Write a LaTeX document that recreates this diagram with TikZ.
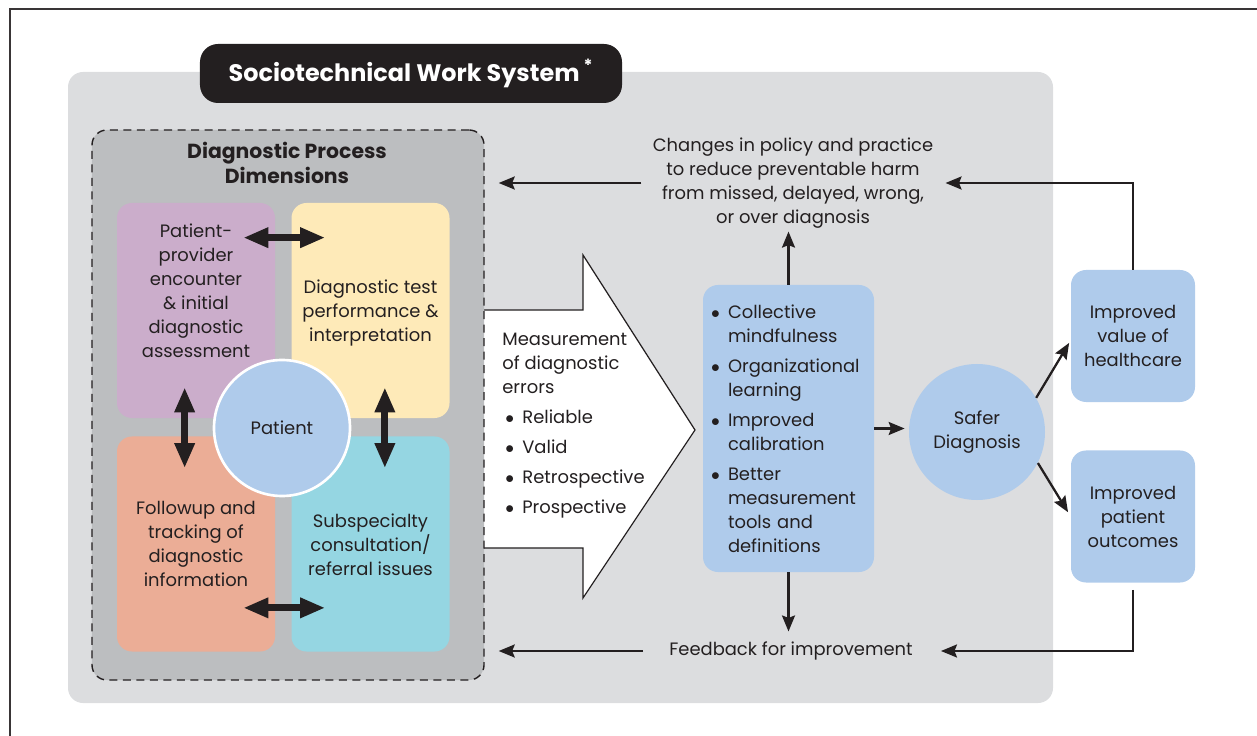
\documentclass[tikz,border=0pt]{standalone}
\usepackage{fontspec}
\setmainfont{Poppins}
\usetikzlibrary{arrows.meta, positioning}

\definecolor{txt}{HTML}{231F20}
\definecolor{panelgray}{HTML}{DCDDDF}
\definecolor{dimgray}{HTML}{BCBEC0}
\definecolor{qpurple}{HTML}{CBADCB}
\definecolor{qyellow}{HTML}{FEEAB8}
\definecolor{qsalmon}{HTML}{EBAD96}
\definecolor{qcyan}{HTML}{95D6E2}
\definecolor{boxblue}{HTML}{AFCBEB}

\newcommand{\bul}{\makebox[3.4mm][l]{$\bullet$}}
\newcommand{\ind}{\hspace*{3.4mm}}

\begin{document}
\begin{tikzpicture}[
    x=0.2mm, y=-0.2mm,
    font=\fontsize{10.2}{13.66}\selectfont,
    text=txt,
    quad/.style={
        rectangle,
        rounded corners=3mm,
        minimum width=31.6mm,
        minimum height=43mm,
        inner sep=0pt
    },
    bluebox/.style={rectangle, rounded corners=3mm, fill=boxblue, inner sep=0pt},
    circ/.style={circle, fill=boxblue, minimum size=27.2mm, inner sep=0pt, align=center},
    arr/.style={-{Stealth[length=3.2mm, width=2.6mm, inset=0.5mm]}, line width=1.3pt, draw=txt},
    dbl/.style={{Triangle[length=5mm, width=3.8mm]}-{Triangle[length=5mm, width=3.8mm]}, line width=4pt, draw=txt}
]
\useasboundingbox (0,0) rectangle (1257,736);

% frame and background panel
\draw[line width=1.2pt, draw=txt!90] (10,740) |- (1260,9);
\fill[panelgray, rounded corners=3mm] (68,72) rectangle (1053,703);

% title
\node[rectangle, rounded corners=3.6mm, fill=txt, text=white, minimum width=84.4mm, minimum height=11.8mm,
      font=\fontsize{13.6}{16}\selectfont\bfseries] (title) at (411,73.5) {Sociotechnical Work System\,\textsuperscript{*}};

% big arrow
\draw[fill=white, draw=txt, line width=0.7pt] (470,310) -- (583,310) -- (583,255) -- (695,430)
    -- (583,598) -- (583,548) -- (470,548);

% diagnostic process dimensions
\node[rectangle, rounded corners=3mm, draw=txt, fill=dimgray, line width=0.8pt,
      dash pattern=on 1.6mm off 1.1mm, minimum width=78.4mm, minimum height=110mm] (dims) at (288,405) {};
\node[align=center, font=\fontsize{11.6}{14.7}\selectfont\bfseries] (dimhead) at (287,163) {Diagnostic Process\\Dimensions};

\node[quad, fill=qpurple] (pp) at (196,310.5) {};
\node[quad, fill=qyellow] (dt) at (370.5,310.5) {};
\node[quad, fill=qsalmon] (fu) at (196,544) {};
\node[quad, fill=qcyan] (sc) at (370.5,544) {};

\node[align=center] (pptext) at (196,291) {Patient-\\provider\\encounter\\\& initial\\diagnostic\\assessment};
\node[align=center] (dttext) at (370.5,313) {Diagnostic test\\performance \&\\interpretation};
\node[align=center] (futext) at (196,544) {Followup and\\tracking of\\diagnostic\\information};
\node[align=center] (sctext) at (370.5,545) {Subspecialty\\consultation/\\referral issues};

\draw[dbl] ([xshift=-6.4mm, yshift=-7mm]pp.north east) -- ([xshift=6.8mm, yshift=-7mm]dt.north west);
\draw[dbl] ([xshift=-6.4mm, yshift=8.8mm]fu.south east) -- ([xshift=6.8mm, yshift=8.8mm]sc.south west);
\draw[dbl] ([xshift=13.6mm, yshift=6.2mm]pp.south west) -- ([xshift=13.6mm, yshift=-6.4mm]fu.north west);
\draw[dbl] ([xshift=-13mm, yshift=6.2mm]dt.south east) -- ([xshift=-13mm, yshift=-6.4mm]sc.north east);

\node[circ, draw=white, line width=1.5pt] (patient) at (282,428) {Patient};

% measurement
\node[anchor=west, align=left, inner sep=0pt] (meas) at (502,426) {Measurement\\of diagnostic\\errors\\[1.2mm]
    \hspace*{0.6mm}\bul Reliable\\[1.2mm]\hspace*{0.6mm}\bul Valid\\[1.2mm]
    \hspace*{0.6mm}\bul Retrospective\\[1.2mm]\hspace*{0.6mm}\bul Prospective};

% right side
\node[bluebox, text width=31mm, inner xsep=1.6mm, minimum height=57.4mm, align=left] (blue) at (788.5,428.5) {%
    \bul Collective\\\ind mindfulness\\[1.2mm]
    \bul Organizational\\\ind learning\\[1.2mm]
    \bul Improved\\\ind calibration\\[1.2mm]
    \bul Better\\\ind measurement\\\ind tools and\\\ind definitions};
\node[circ] (safer) at (977,432) {Safer\\Diagnosis};
\node[bluebox, minimum width=24.8mm, minimum height=26.4mm, align=center] (value) at (1133,336) {Improved\\value of\\healthcare};
\node[bluebox, minimum width=24.8mm, minimum height=26.4mm, align=center] (outcomes) at (1133,516.5) {Improved\\patient\\outcomes};

\node[align=center, inner sep=0pt] (changes) at (793,183) {Changes in policy and practice\\to reduce preventable harm\\from missed, delayed, wrong,\\or over diagnosis};
\node[inner sep=0pt] (feedback) at (791,651) {Feedback for improvement};

% connectors
\draw[arr, shorten >=0.6mm] (blue.north) -- (blue.north |- changes.south);
\draw[arr, shorten >=2mm] (blue.south) -- (blue.south |- feedback.north);
\draw[arr, shorten >=0.8mm] (blue.east) -- (blue.east -| safer.west);
\draw[arr, shorten >=0.6mm] (safer.30) -- (value.184);
\draw[arr, shorten >=1mm] (safer.-27) -- (outcomes.180);
\draw[arr, shorten >=2.4mm] (value.north) |- (changes.east);
\draw[arr, shorten <=1.4mm, shorten >=5.6mm] (outcomes.south) |- (feedback.east);
\draw[arr, shorten <=2.2mm, shorten >=2.8mm] (changes.west) -- (dims.east |- changes.west);
\draw[arr, shorten <=5.2mm, shorten >=2.8mm] (feedback.west) -- (dims.east |- feedback.west);

\end{tikzpicture}
\end{document}
